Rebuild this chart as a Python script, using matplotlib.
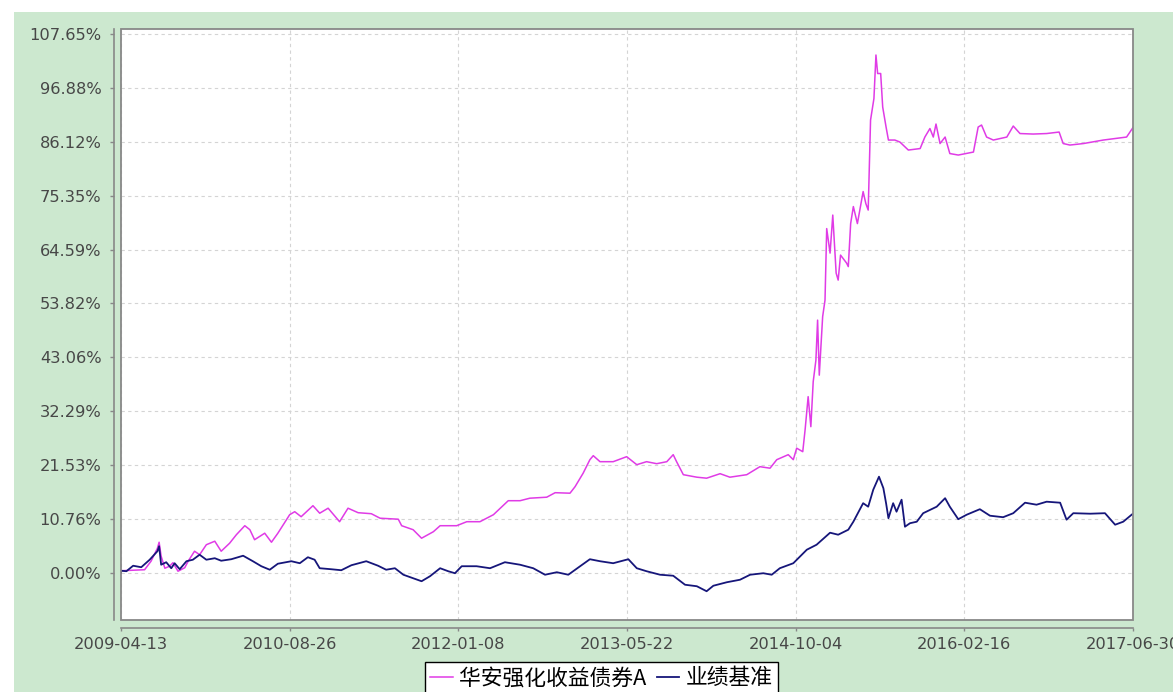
import numpy as np
import matplotlib
matplotlib.use('Agg')
import matplotlib.pyplot as plt
import matplotlib.dates as mdates
from matplotlib.patches import Rectangle

# ---------------- data ----------------
start_date = np.datetime64('2009-04-13')

series_names = ['华安强化收益债券A', '业绩基准']

fund_days = [0, 1, 70, 89, 108, 113, 119, 130, 144, 154, 169, 189, 199, 218, 233, 253, 278, 297,
             322, 342, 367, 382, 396, 426, 446, 465, 500, 515, 534, 569, 589, 614, 648, 673, 703,
             742, 768, 822, 832, 866, 891, 926, 946, 995, 1025, 1064, 1104, 1148, 1183, 1212,
             1262, 1287, 1331, 1346, 1370, 1390, 1400, 1420, 1459, 1499, 1529, 1558, 1588, 1618,
             1637, 1647, 1667, 1707, 1736, 1776, 1805, 1855, 1894, 1924, 1944, 1978, 1993, 2003,
             2021, 2028, 2037, 2045, 2052, 2060, 2065, 2070, 2080, 2087, 2092, 2102, 2110, 2120,
             2126, 2133, 2151, 2156, 2163, 2171, 2183, 2191, 2200, 2208, 2215, 2222, 2232, 2238,
             2243, 2252, 2258, 2268, 2275, 2294, 2309, 2334, 2369, 2383, 2398, 2408, 2416, 2428,
             2443, 2457, 2482, 2527, 2541, 2551, 2566, 2586, 2626, 2645, 2665, 2704, 2744, 2781,
             2793, 2813, 2853, 2912, 2981, 2996, 3000]
fund_pct = [0.0, 0.4, 0.6, 2.3, 4.9, 6.1, 3.3, 0.9, 1.3, 2.0, 0.3, 1.0, 2.3, 4.3, 3.6, 5.6, 6.3, 4.3,
            5.9, 7.6, 9.4, 8.6, 6.6, 7.9, 6.1, 7.9, 11.6, 12.2, 11.2, 13.4, 11.9, 12.9, 10.2, 12.9, 12.0,
            11.8, 10.9, 10.7, 9.4, 8.6, 6.9, 8.2, 9.4, 9.4, 10.2, 10.2, 11.6, 14.4, 14.4, 14.9,
            15.1, 16.0, 15.9, 17.2, 19.9, 22.6, 23.4, 22.2, 22.2, 23.2, 21.6, 22.2, 21.8, 22.2,
            23.6, 22.2, 19.6, 19.1, 18.9, 19.8, 19.1, 19.6, 21.2, 20.9, 22.6, 23.6, 22.6, 24.9,
            24.2, 28.6, 35.2, 29.2, 38.2, 42.5, 50.5, 39.5, 51.2, 54.5, 68.8, 63.9, 71.5, 59.9,
            58.5, 63.5, 61.9, 61.2, 69.8, 73.2, 69.8, 72.8, 76.2, 73.8, 72.5, 90.5, 94.8, 103.5,
            99.8, 99.8, 93.1, 89.1, 86.5, 86.5, 86.1, 84.5, 84.8, 87.1, 88.8, 87.1, 89.7, 85.8,
            87.1, 83.8, 83.5, 84.1, 89.1, 89.5, 87.1, 86.5, 87.1, 89.3, 87.8, 87.7, 87.8, 88.1,
            85.8, 85.5, 85.8, 86.5, 87.1, 88.6, 89.0]

bench_days = [0, 1, 16, 36, 60, 85, 108, 113, 119, 134, 149, 159, 174, 194, 213, 233, 253, 278, 297,
              327, 362, 391, 416, 441, 465, 505, 530, 554, 574, 589, 623, 653, 683, 727, 762, 786,
              812, 837, 866, 891, 916, 946, 970, 990, 1010, 1054, 1094, 1138, 1183, 1222, 1257,
              1292, 1326, 1361, 1390, 1420, 1459, 1504, 1529, 1558, 1598, 1637, 1672, 1707, 1736,
              1756, 1796, 1835, 1865, 1904, 1929, 1953, 1993, 2033, 2062, 2102, 2126, 2156, 2171,
              2200, 2215, 2230, 2247, 2260, 2268, 2275, 2289, 2299, 2314, 2324, 2339, 2359, 2378,
              2418, 2443, 2457, 2482, 2507, 2546, 2576, 2615, 2645, 2680, 2714, 2744, 2784, 2803,
              2823, 2873, 2917, 2947, 2971, 2996, 3000]
bench_pct = [0.0, 0.4, 0.3, 1.4, 1.1, 2.6, 4.3, 5.3, 1.6, 2.1, 0.9, 1.9, 0.7, 2.3, 2.6, 3.6, 2.6, 2.9, 2.4,
             2.7, 3.4, 2.3, 1.3, 0.6, 1.8, 2.3, 1.9, 3.1, 2.6, 0.9, 0.7, 0.5, 1.5, 2.3, 1.4, 0.6,
             0.9, -0.4, -1.1, -1.7, -0.7, 0.9, 0.3, -0.1, 1.3, 1.3, 0.9, 2.1, 1.6, 0.9, -0.4,
             0.1, -0.4, 1.3, 2.7, 2.3, 1.9, 2.7, 0.9, 0.3, -0.4, -0.6, -2.4, -2.7, -3.7,
             -2.6, -1.9, -1.4, -0.4, -0.1, -0.4, 0.9, 1.9, 4.6, 5.6, 8.0, 7.6, 8.6, 10.2,
             13.9, 13.2, 16.6, 19.2, 16.9, 13.9, 10.9, 13.9, 12.2, 14.6, 9.2, 9.9, 10.2, 11.9,
             13.2, 14.9, 13.2, 10.7, 11.6, 12.7, 11.4, 11.1, 11.9, 14.0, 13.6, 14.2, 14.0, 10.6,
             11.9, 11.8, 11.9, 9.6, 10.2, 11.6, 11.8]

xtick_days = [0, 500, 1000, 1500, 2000, 2500, 3000]
ytick_vals = [0.0, 10.765, 21.53, 32.295, 43.06, 53.825, 64.59, 75.355, 86.12, 96.885, 107.65]
ytick_labels = ['0.00%', '10.76%', '21.53%', '32.29%', '43.06%', '53.82%', '64.59%',
                '75.35%', '86.12%', '96.88%', '107.65%']

# ---------------- figure ----------------
W, H = 1173, 692
fig = plt.figure(figsize=(W / 100, H / 100), dpi=100, facecolor='white')
fig.patches.append(Rectangle((14 / W, 0), 1 - 14 / W, 1 - 12 / H, transform=fig.transFigure,
                             facecolor='#CCE8CF', edgecolor='none', zorder=-5))

left_px, right_px, top_px, bottom_px = 121, 1133, 29, 619.5
ax = fig.add_axes([left_px / W, 1 - bottom_px / H, (right_px - left_px) / W, (bottom_px - top_px) / H])
ax.set_facecolor('white')

def to_dates(days):
    return start_date + np.array(days).astype('timedelta64[D]')

l1, = ax.plot(to_dates(fund_days), fund_pct, color='#E03BE6', lw=1.1, zorder=3)
l2, = ax.plot(to_dates(bench_days), bench_pct, color='#16167A', lw=1.3, zorder=4)

ax.set_xlim(to_dates([0])[0], to_dates([3000])[0])
ax.set_ylim(-9.35, 108.7)

ax.set_xticks(to_dates(xtick_days))
ax.xaxis.set_major_formatter(mdates.DateFormatter('%Y-%m-%d'))
ax.set_yticks(ytick_vals)
ax.set_yticklabels(ytick_labels)

ax.grid(True, color='#D4D4D4', linestyle=(0, (3, 3)), linewidth=0.8)
ax.set_axisbelow(True)

for s in ['top', 'right']:
    ax.spines[s].set_visible(False)
ax.spines['left'].set_position(('outward', 7 * 0.72))
ax.spines['bottom'].set_position(('outward', 8 * 0.72))
for s in ['left', 'bottom']:
    ax.spines[s].set_color('#888888')
    ax.spines[s].set_linewidth(1.2)

ax.add_patch(Rectangle((0, 0), 1, 1, transform=ax.transAxes, fill=False,
                       edgecolor='#888888', lw=1.3, clip_on=False, zorder=6))

ax.tick_params(axis='y', direction='out', length=3, width=1, color='#888888', pad=6,
               labelsize=11.7, labelcolor='#474747')
ax.tick_params(axis='x', direction='out', length=2, width=1, color='#888888', pad=5,
               labelsize=11.7, labelcolor='#474747')

leg = fig.legend([l1, l2], series_names, loc='upper center',
                 bbox_to_anchor=(601.5 / W, 1 - 662 / H), ncol=2,
                 prop={'family': ['Noto Sans CJK SC', 'DejaVu Sans'], 'size': 15.7},
                 frameon=True, fancybox=False, edgecolor='black', facecolor='white', framealpha=1,
                 handlelength=1.05, handletextpad=0.3, columnspacing=0.45,
                 borderpad=0.25, borderaxespad=0)
leg.get_frame().set_linewidth(1.0)

fig.savefig('out.png', dpi=100, facecolor='white')
